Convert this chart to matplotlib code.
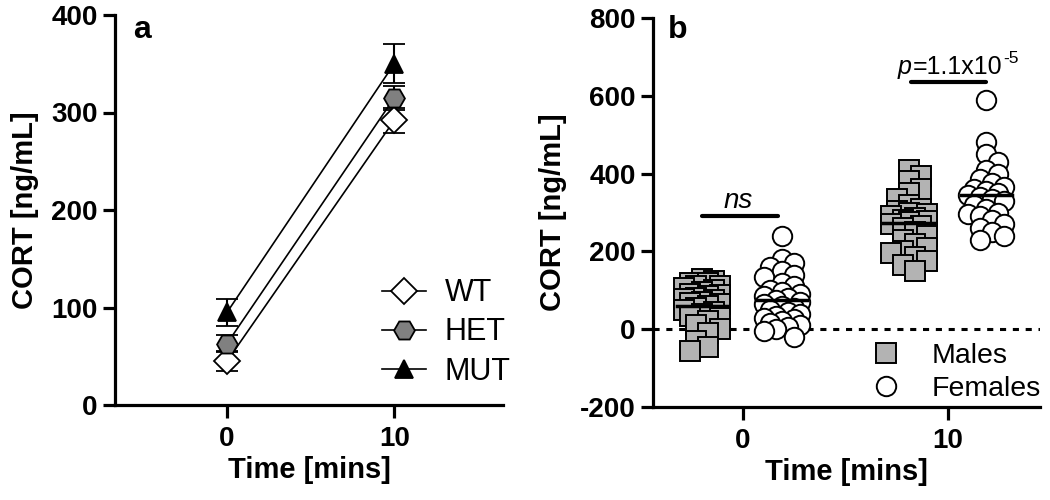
import numpy as np
import matplotlib
matplotlib.use('Agg')
import matplotlib.pyplot as plt
from matplotlib.lines import Line2D
from matplotlib.transforms import offset_copy

plt.rcParams['font.family'] = ['Liberation Sans', 'DejaVu Sans']

# panel a: group means +- SEM at 0 and 10 min
times = [0, 10]
genotypes = ['WT', 'HET', 'MUT']
wt_mean = [45, 292]
wt_sem = [10, 13]
het_mean = [63, 315]
het_sem = [9, 12]
mut_mean = [95, 350]
mut_sem = [14, 20]

# panel b: individual animals
male_t0 = [130, 125, 120, 118, 112, 110, 105, 100, 95, 90, 88, 85, 80, 78, 75, 70,
           68, 65, 60, 55, 50, 45, 40, 35, 30, 20, 10, 0, -10, -30, -45, -55]
female_t0 = [240, 180, 170, 160, 150, 140, 135, 120, 110, 100, 95, 90, 85, 80, 75, 70,
             65, 60, 55, 50, 45, 40, 35, 30, 25, 20, 15, 10, 5, 0, -5, -20]
male_t10 = [410, 395, 380, 360, 350, 335, 320, 310, 305, 300, 295, 290, 285, 280, 278,
            275, 270, 265, 260, 250, 240, 230, 220, 210, 200, 195, 185, 175, 165, 150]
female_t10 = [590, 480, 450, 430, 410, 400, 385, 375, 365, 360, 355, 350, 345, 340, 335,
              330, 320, 310, 300, 295, 290, 280, 270, 260, 250, 240, 230]


def swarm_x(vals, center, xscale, yscale, dmin=10.0, step=6.0, kmax=3):
    """simple beeswarm in pixel space, overlap allowed"""
    placed = []
    order = np.argsort(vals)[::-1]
    xs = np.zeros(len(vals))
    offs = [0]
    for k in range(1, kmax + 1):
        offs += [k, -k]
    for i in order:
        y = vals[i] * yscale
        best, bestd = 0, -1
        for k in offs:
            x = k * step
            d = min([np.hypot(x - px, y - py) for px, py in placed] + [1e9])
            if d >= dmin:
                best = x
                break
            if d > bestd:
                best, bestd = x, d
        placed.append((best, y))
        xs[i] = center + best / xscale
    return xs


fig = plt.figure(figsize=(10.5, 5), dpi=100)
ax1 = fig.add_axes([0.1095, 0.19, 0.3695, 0.78])
ax2 = fig.add_axes([0.622, 0.186, 0.368, 0.778])

lw_sp = 2.3
tick_fs = 20
lab_fs = 21
for ax in (ax1, ax2):
    for s in ['top', 'right']:
        ax.spines[s].set_visible(False)
    for s in ['left', 'bottom']:
        ax.spines[s].set_linewidth(lw_sp)
    ax.tick_params(width=lw_sp, length=9, labelsize=tick_fs)
    ax.tick_params(axis='x', pad=6)

# ---- panel a
styles = [('D', 'white', 13), ('H', '#808080', 15), ('^', 'black', 13)]
series = [(wt_mean, wt_sem), (het_mean, het_sem), (mut_mean, mut_sem)]
handles = []
for (m, c, ms), (mu, se), name in zip(styles, series, genotypes):
    ax1.errorbar(times, mu, yerr=se, color='black', lw=1.2, capsize=8, capthick=1.5,
                 elinewidth=1.5, marker=m, ms=ms, mfc=c, mec='black', mew=1.3)
    handles.append(Line2D([], [], color='black', lw=1.2, marker=m, ms=ms, mfc=c,
                          mec='black', mew=1.3, label=name))
ax1.set_xlim(-6.7, 16.5)
ax1.set_ylim(0, 400)
ax1.set_xticks([0, 10])
ax1.set_yticks([0, 100, 200, 300, 400])
ax1.set_xticklabels(['0', '10'], fontweight='bold')
ax1.set_yticklabels(['0', '100', '200', '300', '400'], fontweight='bold')
ax1.set_xlabel('Time [mins]', fontsize=lab_fs, fontweight='bold', labelpad=3)
ax1.set_ylabel('CORT [ng/mL]', fontsize=lab_fs, fontweight='bold', labelpad=9)
ax1.text(0.046, 0.941, 'a', transform=ax1.transAxes, fontsize=23, fontweight='bold',
         va='baseline', ha='left')
ax1.legend(handles=handles, loc='upper left', bbox_to_anchor=(0.688, 0.325), frameon=False,
           fontsize=22, handlelength=1.45, handletextpad=0.6, labelspacing=0.3,
           borderpad=0, borderaxespad=0)

# ---- panel b
xlim = (-4.4, 14.5)
ylim = (-200, 800)
ax2.set_xlim(*xlim)
ax2.set_ylim(*ylim)
fig.canvas.draw()
bb = ax2.get_window_extent()
xscale = bb.width / (xlim[1] - xlim[0])
yscale = bb.height / (ylim[1] - ylim[0])

ax2.axhline(0, color='black', lw=2.2, ls=(0, (2, 2.2)), zorder=1)

groups = [(male_t0, -2.0, 's', '#b3b3b3'), (female_t0, 1.9, 'o', 'white'),
          (male_t10, 8.1, 's', '#b3b3b3'), (female_t10, 11.9, 'o', 'white')]
for vals, cx, m, c in groups:
    v = np.array(vals, dtype=float)
    xs = swarm_x(v, cx, xscale, yscale)
    ax2.plot(xs, v, ls='none', marker=m, ms=14, mfc=c, mec='black', mew=1.4, zorder=2)
    ax2.plot([cx - 1.25, cx + 1.25], [v.mean(), v.mean()], color='black', lw=2.5, zorder=3)

# significance bars
ax2.plot([-2.0, 1.7], [290, 290], color='black', lw=3, solid_capstyle='round')
ax2.text(-0.25, 312, 'ns', fontsize=20, style='italic', ha='center', va='baseline')
ax2.plot([8.2, 11.9], [635, 635], color='black', lw=3, solid_capstyle='round')

# p=1.1x10^-5 built from pieces so the exponent keeps a plain hyphen
renderer = fig.canvas.get_renderer()
px0, py0 = 7.55, 655
t_p = ax2.text(px0, py0, 'p', fontsize=18, style='italic', ha='left', va='baseline')
w = t_p.get_window_extent(renderer).width
t_m = ax2.text(px0, py0, '=1.1x10', fontsize=18, ha='left', va='baseline',
               transform=offset_copy(ax2.transData, fig, x=w + 1, y=0, units='dots'))
w2 = t_m.get_window_extent(renderer).width
ax2.text(px0, py0, '-5', fontsize=12.5, ha='left', va='baseline',
         transform=offset_copy(ax2.transData, fig, x=w + w2 + 2, y=11, units='dots'))

ax2.set_xticks([0, 10])
ax2.set_yticks([-200, 0, 200, 400, 600, 800])
ax2.set_xticklabels(['0', '10'], fontweight='bold')
ax2.set_yticklabels(['-200', '0', '200', '400', '600', '800'], fontweight='bold')
ax2.set_xlabel('Time [mins]', fontsize=lab_fs, fontweight='bold', labelpad=3)
ax2.set_ylabel('CORT [ng/mL]', fontsize=lab_fs, fontweight='bold', labelpad=9)
ax2.text(0.039, 0.949, 'b', transform=ax2.transAxes, fontsize=23, fontweight='bold',
         va='baseline', ha='left')
hb = [Line2D([], [], ls='none', marker='s', ms=14, mfc='#b3b3b3', mec='black', mew=1.4,
             label='Males'),
      Line2D([], [], ls='none', marker='o', ms=14, mfc='white', mec='black', mew=1.4,
             label='Females')]
ax2.legend(handles=hb, loc='upper left', bbox_to_anchor=(0.528, 0.165), frameon=False,
           fontsize=20.5, handletextpad=0.6, labelspacing=0.25, borderpad=0,
           borderaxespad=0)

fig.savefig('out.png', dpi=100)
